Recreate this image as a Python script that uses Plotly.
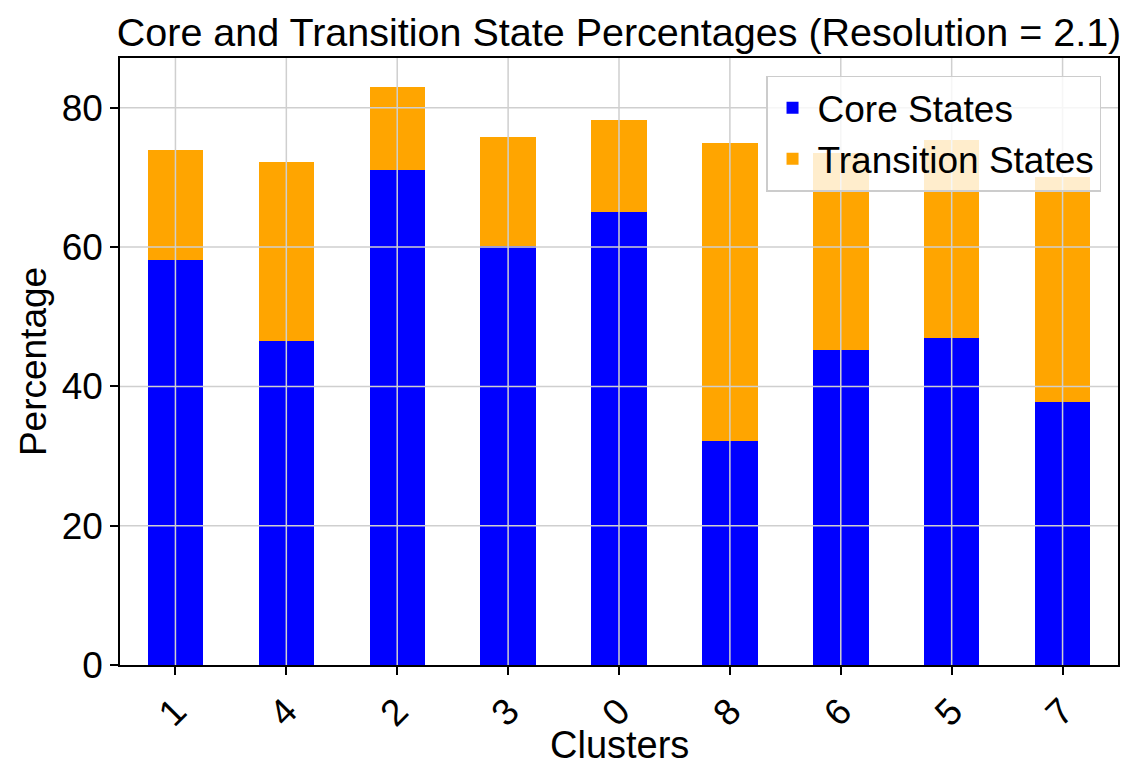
import plotly.graph_objects as go

clusters = ["1", "4", "2", "3", "0", "8", "6", "5", "7"]
core_states = [58.2, 46.5, 71.1, 60.2, 65.1, 32.1, 45.2, 47.0, 37.7]
transition_states = [15.8, 25.7, 11.9, 15.6, 13.1, 42.9, 28.3, 28.4, 32.4]
y_ticks = [0, 20, 40, 60, 80]

FONT = "Liberation Sans, Arial, sans-serif"
GRID = "#cfcfcf"

fig = go.Figure()
fig.add_trace(go.Bar(x=clusters, y=core_states, name="Core States",
                     marker=dict(color="#0000ff", line=dict(width=0))))
fig.add_trace(go.Bar(x=clusters, y=transition_states, name="Transition States",
                     marker=dict(color="#ffa500", line=dict(width=0))))

ymax = max(c + t for c, t in zip(core_states, transition_states)) * 1.05

shapes = []
for c in clusters:
    shapes.append(dict(type="line", xref="x", yref="paper", x0=c, x1=c, y0=0, y1=1,
                       line=dict(color=GRID, width=1.5), layer="above"))
for v in y_ticks[1:]:
    shapes.append(dict(type="line", xref="paper", yref="y", x0=0, x1=1, y0=v, y1=v,
                       line=dict(color=GRID, width=1.5), layer="above"))

fig.update_layout(
    width=1145, height=783,
    barmode="stack", bargap=0.5,
    plot_bgcolor="white", paper_bgcolor="white",
    font=dict(family=FONT, size=37, color="black"),
    margin=dict(l=120, r=27, t=58, b=118),
    title=dict(text="Core and Transition State Percentages (Resolution = 2.1)",
               font=dict(size=39.5, family=FONT, color="black"),
               x=0.5, xref="paper", xanchor="center",
               y=1 - 32 / 783, yref="container", yanchor="middle"),
    shapes=shapes,
    annotations=[dict(text="Clusters", xref="paper", yref="paper", x=0.5, y=-0.132,
                      xanchor="center", yanchor="middle", showarrow=False,
                      font=dict(size=38, family=FONT, color="black"))],
    legend=dict(x=0.983, y=0.971, xanchor="right", yanchor="top",
                bgcolor="rgba(255,255,255,0.8)", bordercolor="#cccccc", borderwidth=1.5,
                font=dict(size=37, family=FONT, color="black"),
                itemwidth=40,
                traceorder="normal", tracegroupgap=0),
    showlegend=True,
)

fig.update_xaxes(
    type="category", range=[-0.5, len(clusters) - 0.5],
    showgrid=False, showline=True, linecolor="black", linewidth=1.5, mirror=True,
    ticks="outside", ticklen=8, tickwidth=1.5, tickcolor="black",
    tickangle=-45, tickfont=dict(size=37, family=FONT),
)
fig.update_yaxes(
    range=[0, ymax], tickvals=y_ticks,
    showgrid=False, zeroline=False, showline=True, linecolor="black", linewidth=1.5, mirror=True,
    ticks="outside", ticklen=8, tickwidth=1.5, tickcolor="black",
    tickfont=dict(size=37, family=FONT),
    title=dict(text="Percentage", font=dict(size=37, family=FONT), standoff=4),
)

fig.write_html("out.html")
